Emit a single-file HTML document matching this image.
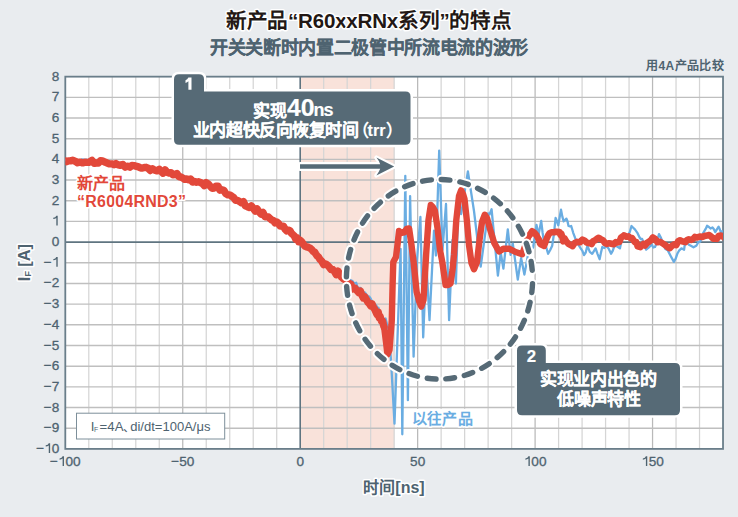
<!DOCTYPE html>
<html lang="zh-CN"><head><meta charset="utf-8">
<style>
html,body{margin:0;padding:0;background:#e9ecef;}
body{width:738px;height:517px;overflow:hidden;font-family:"Liberation Sans",sans-serif;}
svg{display:block;font-family:"Liberation Sans",sans-serif;}
</style></head><body>
<svg width="738" height="517" viewBox="0 0 738 517"><rect width="738" height="517" fill="#e9ecef"/><rect x="65.30" y="76.66" width="657.72" height="372.24" fill="#fff"/><rect x="300.20" y="76.66" width="93.96" height="372.24" fill="#f9e2da"/><line x1="88.79" y1="76.66" x2="88.79" y2="448.90" stroke="#d5d5d5" stroke-width="1.25"/><line x1="112.28" y1="76.66" x2="112.28" y2="448.90" stroke="#d5d5d5" stroke-width="1.25"/><line x1="135.77" y1="76.66" x2="135.77" y2="448.90" stroke="#d5d5d5" stroke-width="1.25"/><line x1="159.26" y1="76.66" x2="159.26" y2="448.90" stroke="#d5d5d5" stroke-width="1.25"/><line x1="182.75" y1="76.66" x2="182.75" y2="448.90" stroke="#b9b9b9" stroke-width="1.25"/><line x1="206.24" y1="76.66" x2="206.24" y2="448.90" stroke="#d5d5d5" stroke-width="1.25"/><line x1="229.73" y1="76.66" x2="229.73" y2="448.90" stroke="#d5d5d5" stroke-width="1.25"/><line x1="253.22" y1="76.66" x2="253.22" y2="448.90" stroke="#d5d5d5" stroke-width="1.25"/><line x1="276.71" y1="76.66" x2="276.71" y2="448.90" stroke="#d5d5d5" stroke-width="1.25"/><line x1="323.69" y1="76.66" x2="323.69" y2="448.90" stroke="#d5d5d5" stroke-width="1.25"/><line x1="347.18" y1="76.66" x2="347.18" y2="448.90" stroke="#d5d5d5" stroke-width="1.25"/><line x1="370.67" y1="76.66" x2="370.67" y2="448.90" stroke="#d5d5d5" stroke-width="1.25"/><line x1="394.16" y1="76.66" x2="394.16" y2="448.90" stroke="#d5d5d5" stroke-width="1.25"/><line x1="417.65" y1="76.66" x2="417.65" y2="448.90" stroke="#b9b9b9" stroke-width="1.25"/><line x1="441.14" y1="76.66" x2="441.14" y2="448.90" stroke="#d5d5d5" stroke-width="1.25"/><line x1="464.63" y1="76.66" x2="464.63" y2="448.90" stroke="#d5d5d5" stroke-width="1.25"/><line x1="488.12" y1="76.66" x2="488.12" y2="448.90" stroke="#d5d5d5" stroke-width="1.25"/><line x1="511.61" y1="76.66" x2="511.61" y2="448.90" stroke="#d5d5d5" stroke-width="1.25"/><line x1="535.10" y1="76.66" x2="535.10" y2="448.90" stroke="#b9b9b9" stroke-width="1.25"/><line x1="558.59" y1="76.66" x2="558.59" y2="448.90" stroke="#d5d5d5" stroke-width="1.25"/><line x1="582.08" y1="76.66" x2="582.08" y2="448.90" stroke="#d5d5d5" stroke-width="1.25"/><line x1="605.57" y1="76.66" x2="605.57" y2="448.90" stroke="#d5d5d5" stroke-width="1.25"/><line x1="629.06" y1="76.66" x2="629.06" y2="448.90" stroke="#d5d5d5" stroke-width="1.25"/><line x1="652.55" y1="76.66" x2="652.55" y2="448.90" stroke="#b9b9b9" stroke-width="1.25"/><line x1="676.04" y1="76.66" x2="676.04" y2="448.90" stroke="#d5d5d5" stroke-width="1.25"/><line x1="699.53" y1="76.66" x2="699.53" y2="448.90" stroke="#d5d5d5" stroke-width="1.25"/><line x1="65.30" y1="428.22" x2="723.02" y2="428.22" stroke="#bfbfbf" stroke-width="1.4"/><line x1="65.30" y1="407.54" x2="723.02" y2="407.54" stroke="#bfbfbf" stroke-width="1.4"/><line x1="65.30" y1="386.86" x2="723.02" y2="386.86" stroke="#bfbfbf" stroke-width="1.4"/><line x1="65.30" y1="366.18" x2="723.02" y2="366.18" stroke="#bfbfbf" stroke-width="1.4"/><line x1="65.30" y1="345.50" x2="723.02" y2="345.50" stroke="#bfbfbf" stroke-width="1.4"/><line x1="65.30" y1="324.82" x2="723.02" y2="324.82" stroke="#bfbfbf" stroke-width="1.4"/><line x1="65.30" y1="304.14" x2="723.02" y2="304.14" stroke="#bfbfbf" stroke-width="1.4"/><line x1="65.30" y1="283.46" x2="723.02" y2="283.46" stroke="#bfbfbf" stroke-width="1.4"/><line x1="65.30" y1="262.78" x2="723.02" y2="262.78" stroke="#bfbfbf" stroke-width="1.4"/><line x1="65.30" y1="221.42" x2="723.02" y2="221.42" stroke="#bfbfbf" stroke-width="1.4"/><line x1="65.30" y1="200.74" x2="723.02" y2="200.74" stroke="#bfbfbf" stroke-width="1.4"/><line x1="65.30" y1="180.06" x2="723.02" y2="180.06" stroke="#bfbfbf" stroke-width="1.4"/><line x1="65.30" y1="159.38" x2="723.02" y2="159.38" stroke="#bfbfbf" stroke-width="1.4"/><line x1="65.30" y1="138.70" x2="723.02" y2="138.70" stroke="#bfbfbf" stroke-width="1.4"/><line x1="65.30" y1="118.02" x2="723.02" y2="118.02" stroke="#bfbfbf" stroke-width="1.4"/><line x1="65.30" y1="97.34" x2="723.02" y2="97.34" stroke="#bfbfbf" stroke-width="1.4"/><line x1="65.30" y1="242.10" x2="723.02" y2="242.10" stroke="#5f7480" stroke-width="1.6"/><line x1="300.20" y1="76.66" x2="300.20" y2="448.90" stroke="#5f7480" stroke-width="1.6"/><rect x="65.30" y="76.66" width="657.72" height="372.24" fill="none" stroke="#6a7e8a" stroke-width="1.8"/><defs><clipPath id="pc"><rect x="65.30" y="76.66" width="657.72" height="372.24"/></clipPath></defs><g clip-path="url(#pc)" fill="none" stroke-linejoin="round" stroke-linecap="round"><path d="M65.3,160.2 L66.8,160.2 L68.3,161.5 L70.6,160.0 L73.4,159.3 L75.3,160.2 L77.6,161.2 L80.2,161.3 L82.1,159.4 L85.1,160.0 L86.7,159.7 L89.2,161.7 L92.3,160.4 L94.3,160.3 L96.6,162.8 L98.1,162.9 L100.8,161.5 L102.1,163.1 L104.6,161.5 L106.9,162.7 L109.6,161.7 L112.6,164.3 L114.5,163.0 L115.8,164.3 L118.2,163.7 L120.9,163.6 L122.1,163.7 L124.6,165.1 L127.7,164.1 L129.9,165.6 L132.1,166.3 L134.0,166.3 L136.2,167.1 L138.3,166.8 L140.1,165.4 L142.1,167.6 L144.0,167.0 L146.1,167.3 L147.8,167.9 L150.8,168.2 L152.7,169.5 L154.7,167.9 L156.8,170.4 L158.8,169.4 L161.5,171.1 L163.1,171.5 L165.2,170.2 L166.6,171.1 L169.3,171.7 L170.7,172.0 L172.5,173.0 L174.6,174.0 L176.2,174.4 L178.6,172.9 L181.0,175.0 L182.1,175.2 L184.8,176.3 L186.9,178.3 L188.8,178.9 L191.0,180.1 L192.7,178.5 L194.8,182.3 L196.4,181.3 L199.0,180.6 L200.5,184.7 L202.0,183.5 L204.8,183.2 L206.4,184.6 L207.9,184.3 L210.2,185.8 L212.1,185.5 L213.8,186.1 L216.3,187.2 L217.7,187.2 L220.7,189.8 L222.1,187.4 L224.0,191.1 L226.3,192.0 L227.8,193.1 L229.1,194.7 L231.8,194.3 L234.0,197.8 L235.2,196.8 L237.6,198.9 L239.4,199.1 L242.1,202.1 L243.1,201.2 L245.9,204.4 L247.9,205.4 L249.0,206.1 L250.6,206.3 L253.2,208.5 L255.0,208.9 L257.3,210.4 L259.3,211.1 L261.0,212.6 L263.0,212.2 L264.8,214.0 L266.6,215.2 L268.3,216.2 L270.0,216.0 L271.8,219.2 L273.5,219.2 L275.2,219.7 L276.1,221.7 L278.1,223.4 L279.7,221.5 L281.4,226.4 L283.3,224.8 L284.9,227.7 L286.9,228.6 L288.9,230.4 L289.9,231.5 L291.9,233.2 L293.2,232.8 L294.3,235.9 L295.7,237.6 L297.4,238.9 L298.7,241.7 L300.6,240.5 L301.9,244.3 L303.5,243.8 L305.5,244.0 L306.6,245.2 L308.7,247.0 L310.5,247.2 L312.2,249.0 L313.4,249.9 L314.5,251.9 L315.5,252.2 L317.1,252.9 L318.3,254.1 L319.7,258.1 L321.8,259.4 L323.6,260.1 L325.5,262.9 L326.7,262.9 L327.8,263.3 L329.7,267.0 L330.5,267.5 L333.0,267.3 L334.0,269.3 L336.1,270.1 L338.1,272.6 L340.0,274.1 L341.9,275.5 L342.7,274.9 L344.2,275.3 L345.9,277.2 L347.3,276.5 L348.8,279.3 L350.9,280.3 L352.4,281.0 L354.0,283.1 L355.0,283.2 L356.2,282.7 L357.2,286.4 L358.5,287.9 L360.5,287.9 L361.8,290.3 L363.6,292.5 L364.9,292.5 L366.4,294.6 L368.1,296.4 L369.1,296.4 L370.6,298.5 L371.7,300.7 L373.2,302.7 L374.8,304.1 L376.6,306.0 L377.4,308.3 L378.5,307.8 L378.9,311.8 L380.2,315.1 L381.6,316.7 L382.9,318.5 L383.6,319.2 L384.2,319.6 L385.6,318.5 L388.5,330.0 L391.0,360.0 L394.5,423.6 L400.6,249.0 L402.3,434.3 L405.3,175.8 L407.9,400.2 L410.1,196.1 L413.6,356.6 L417.0,260.0 L420.4,217.0 L423.2,337.4 L426.3,262.0 L429.5,320.1 L434.0,230.7 L435.9,255.5 L439.2,150.6 L442.5,250.0 L446.0,204.0 L449.1,320.1 L452.5,240.0 L455.9,283.5 L458.5,200.0 L461.1,214.1 L467.9,171.4 L474.0,211.0 L480.7,266.6 L488.0,213.3 L489.5,214.5 L491.6,209.3 L497.9,275.7 L500.7,252.6 L503.4,268.5 L507.8,229.4 L510.6,254.8 L512.8,243.7 L517.8,279.6 L521.1,258.1 L524.4,274.6 L528.0,255.0 L533.2,247.0 L536.5,225.0 L538.5,235.0 L541.2,221.0 L542.6,232.7 L544.0,241.6 L546.0,246.5 L548.1,253.8 L550.2,250.0 L552.2,245.7 L553.9,234.3 L555.6,217.9 L557.0,221.3 L558.3,225.3 L559.6,217.5 L561.0,209.7 L562.4,216.9 L563.7,221.3 L565.0,220.0 L566.4,218.6 L567.5,221.3 L568.5,226.0 L569.9,226.3 L571.2,226.0 L573.2,232.8 L575.2,238.2 L578.0,244.2 L580.7,248.4 L582.4,250.8 L584.0,255.1 L585.7,252.5 L587.4,245.7 L589.8,251.8 L592.2,253.8 L593.9,251.1 L595.6,248.4 L597.6,254.1 L599.6,259.2 L601.0,252.6 L602.3,247.0 L604.3,248.0 L606.4,245.7 L608.8,248.9 L611.1,253.8 L612.8,250.6 L614.5,245.7 L617.2,246.5 L619.9,248.4 L621.6,240.1 L623.3,233.5 L625.7,235.0 L628.1,234.8 L629.8,232.0 L631.5,226.0 L633.2,227.7 L634.9,229.4 L637.2,232.6 L639.6,237.5 L640.9,239.2 L642.1,238.9 L644.1,244.2 L646.1,249.7 L648.9,247.4 L651.6,244.3 L653.3,247.5 L655.0,247.0 L657.0,241.9 L659.0,234.1 L660.7,237.2 L662.4,241.6 L665.1,248.7 L667.8,250.4 L670.8,256.2 L673.9,261.9 L675.6,258.8 L677.3,253.8 L679.3,250.3 L681.4,248.4 L682.8,249.0 L684.1,249.7 L685.1,242.2 L686.1,238.9 L688.5,244.4 L690.8,245.7 L693.5,247.3 L696.3,245.7 L698.3,242.2 L700.3,241.6 L703.0,233.3 L705.8,228.7 L707.1,225.8 L708.5,226.7 L710.5,228.5 L712.5,227.4 L713.9,229.2 L715.2,232.1 L716.9,229.3 L718.6,226.7 L719.7,229.0 L720.7,232.1 L723.4,231.0 L726.0,230.1" stroke="#6aade2" stroke-width="2.3"/><path d="M65.3,160.8 L66.6,161.7 L68.3,160.9 L70.3,160.9 L72.6,160.3 L75.1,161.2 L77.6,162.8 L80.1,162.1 L82.6,162.9 L84.9,162.2 L87.0,162.4 L88.8,162.3 L91.9,160.4 L94.3,163.3 L96.4,163.0 L98.4,163.1 L100.5,160.8 L102.7,161.0 L104.7,162.1 L106.7,162.8 L109.2,163.9 L112.3,163.9 L114.0,164.7 L116.0,163.6 L118.1,164.9 L120.4,165.3 L122.8,164.4 L125.2,167.2 L127.6,166.2 L129.9,167.2 L132.0,165.5 L134.0,165.6 L135.8,166.2 L138.5,166.9 L140.7,168.0 L142.6,168.0 L144.4,167.5 L146.1,167.3 L148.0,168.1 L150.3,170.5 L152.5,168.7 L154.8,170.3 L157.0,170.9 L159.3,169.3 L161.2,171.4 L163.1,173.2 L165.1,170.0 L167.1,172.3 L169.0,173.0 L171.0,172.8 L173.0,174.7 L174.9,174.6 L176.9,173.5 L178.8,176.6 L180.8,177.0 L182.7,178.0 L184.7,179.3 L186.7,179.0 L188.6,179.7 L190.6,179.1 L192.5,182.1 L194.5,181.5 L196.5,182.2 L198.4,181.8 L200.4,182.5 L202.3,183.3 L204.3,185.7 L206.2,182.6 L208.2,183.8 L210.2,186.3 L212.1,188.3 L214.1,188.0 L216.0,186.1 L218.0,186.2 L219.9,190.2 L221.9,189.9 L223.9,190.4 L225.8,193.7 L227.8,194.9 L229.7,194.9 L231.7,196.2 L233.6,197.6 L235.6,200.2 L237.6,200.4 L239.5,201.5 L241.5,202.8 L243.4,201.6 L245.4,205.9 L247.3,206.7 L249.3,207.4 L251.3,205.8 L253.2,208.3 L255.2,211.0 L257.1,209.0 L259.1,211.8 L261.0,214.0 L263.0,212.5 L265.0,216.8 L266.6,216.6 L268.3,216.9 L270.0,218.5 L271.7,220.0 L273.4,220.5 L275.0,222.8 L276.7,221.9 L278.4,223.3 L280.1,226.0 L281.7,226.0 L283.4,226.1 L285.1,229.2 L286.8,231.0 L288.5,230.2 L289.9,230.5 L291.4,233.2 L292.9,234.6 L294.3,235.9 L295.8,239.2 L297.3,238.0 L298.7,241.8 L300.2,240.3 L301.9,242.1 L303.6,244.7 L305.2,246.3 L306.9,246.9 L308.6,247.4 L310.3,248.3 L311.9,249.7 L313.3,251.5 L314.6,252.1 L315.8,254.0 L317.1,255.9 L318.4,256.9 L319.9,259.4 L321.7,261.1 L323.7,264.6 L324.9,263.8 L326.3,264.2 L327.8,265.5 L329.4,267.2 L331.1,269.5 L332.8,269.5 L334.6,271.7 L336.3,274.7 L338.1,271.2 L339.8,274.2 L341.5,277.0 L343.0,278.4 L344.5,279.5 L345.9,279.9 L347.2,282.1 L349.2,283.5 L350.9,284.2 L352.4,288.9 L353.8,287.9 L355.0,288.2 L356.3,290.0 L357.5,291.1 L358.9,292.7 L360.4,291.2 L361.9,295.0 L363.4,298.0 L364.9,297.0 L366.4,299.6 L367.9,302.2 L369.3,303.5 L370.7,305.8 L372.0,303.9 L373.3,307.2 L374.6,309.1 L375.9,312.0 L377.0,314.3 L378.2,312.0 L379.2,317.7 L380.1,316.4 L381.5,321.3 L382.6,321.0 L383.4,324.6 L384.0,326.9" stroke="#e2483a" stroke-width="7.4"/><path d="M384.0,326.2 L386.0,342.0 L387.5,354.5 L389.5,350.0 L391.8,320.0 L392.6,285.0 L393.3,262.0 L396.0,257.0 L397.5,245.0 L399.0,231.0 L401.5,233.0 L404.2,232.3 L406.5,229.0 L409.1,228.5 L411.5,245.0 L413.6,262.0 L416.6,291.7 L419.0,301.0 L421.3,306.6 L423.5,300.0 L426.1,255.0 L428.5,220.0 L430.8,205.0 L432.8,207.0 L434.9,210.8 L437.5,228.0 L440.0,250.0 L442.3,262.0 L445.6,285.1 L448.0,285.0 L450.5,283.5 L452.5,270.0 L454.0,255.0 L456.3,220.0 L459.0,196.0 L461.1,190.3 L463.0,194.0 L464.5,199.0 L466.8,220.0 L469.0,245.0 L471.5,263.0 L474.0,269.3 L477.0,262.0 L479.5,240.0 L482.0,222.0 L484.8,214.7 L487.0,218.0 L490.2,229.6 L494.1,242.6 L499.0,251.5 L503.4,248.7 L509.0,248.7 L515.6,252.0 L522.2,254.2 L528.2,237.1" stroke="#e2483a" stroke-width="6.4"/><path d="M528.2,236.0 L529.9,234.8 L532.1,231.3 L534.3,232.8 L536.5,235.2 L537.4,237.0 L538.3,238.6 L539.2,240.3 L540.1,243.5 L540.9,244.3 L544.0,245.9 L544.9,243.5 L546.0,240.4 L547.1,237.6 L548.3,235.1 L549.5,233.2 L551.8,232.2 L554.2,232.1 L556.3,231.9 L559.6,232.0 L560.4,234.7 L561.3,233.7 L562.2,236.5 L563.2,241.3 L564.4,238.3 L566.3,241.5 L568.6,243.9 L570.8,245.2 L572.5,246.1 L573.8,244.1 L575.2,242.7 L577.2,241.9 L579.8,242.3 L582.5,239.6 L584.7,240.7 L586.7,242.6 L588.2,242.9 L590.1,243.3 L591.6,244.0 L593.3,241.0 L595.0,240.4 L596.7,239.0 L598.3,237.8 L600.0,238.6 L601.5,239.7 L603.1,240.3 L605.0,243.0 L607.0,243.9 L609.2,243.2 L611.5,243.7 L613.8,244.3 L615.9,242.1 L617.7,242.5 L619.4,241.9 L621.0,237.6 L622.5,236.7 L624.0,235.3 L626.4,236.8 L628.6,236.4 L630.8,238.4 L632.2,238.1 L633.6,240.4 L635.0,242.2 L636.3,242.1 L637.6,246.4 L640.3,247.1 L643.4,244.0 L645.1,245.4 L647.1,242.9 L649.1,241.7 L651.1,240.1 L652.9,237.4 L655.3,239.0 L657.4,242.2 L659.7,241.7 L661.5,242.6 L663.4,243.9 L665.5,245.3 L667.8,247.3 L669.7,248.2 L671.8,245.9 L674.1,244.4 L676.3,245.1 L678.3,241.1 L680.0,240.2 L682.9,241.6 L685.4,242.1 L687.0,240.1 L688.9,239.3 L690.9,239.9 L692.9,239.1 L694.9,236.9 L697.3,237.4 L699.8,236.5 L702.2,237.0 L704.4,236.1 L707.0,235.6 L709.2,235.0 L711.2,236.6 L713.3,238.8 L715.2,238.5 L716.9,238.9 L718.8,235.7 L720.7,235.6 L723.7,237.0 L726.0,239.0" stroke="#e2483a" stroke-width="6.6"/></g><ellipse cx="439.5" cy="279.3" rx="93.1" ry="99.8" fill="none" stroke="#fff" stroke-width="9.4" stroke-dasharray="8.8 10" stroke-dashoffset="-4.5" stroke-linecap="round"/><ellipse cx="439.5" cy="279.3" rx="93.1" ry="99.8" fill="none" stroke="#566a76" stroke-width="5.4" stroke-dasharray="8.8 10" stroke-dashoffset="-4.5" stroke-linecap="round"/><path d="M300,164.15 L380.2,164.15 Q378.8,160.5 376.4,157.6 L394.2,166.5 L376.4,175.4 Q378.8,172.5 380.2,168.85 L300,168.85 Z" fill="#566a76" stroke="#fff" stroke-width="4.4" stroke-linejoin="round" paint-order="stroke"/><text x="36.13 51.64" y="452.90" font-size="13.6" fill="#4e6370" stroke="#4e6370" stroke-width="0.3">−0</text><path d="M48.77,443.16 H50.13 V452.90 H48.77 V445.42 Q47.61,446.24 45.71,446.44 V445.35 Q48.16,445.01 48.77,443.16 Z" fill="#4e6370"/><text x="43.70 51.64" y="432.22" font-size="13.6" fill="#4e6370" stroke="#4e6370" stroke-width="0.3">−9</text><text x="43.70 51.64" y="411.54" font-size="13.6" fill="#4e6370" stroke="#4e6370" stroke-width="0.3">−8</text><text x="43.70 51.64" y="390.86" font-size="13.6" fill="#4e6370" stroke="#4e6370" stroke-width="0.3">−7</text><text x="43.70 51.64" y="370.18" font-size="13.6" fill="#4e6370" stroke="#4e6370" stroke-width="0.3">−6</text><text x="43.70 51.64" y="349.50" font-size="13.6" fill="#4e6370" stroke="#4e6370" stroke-width="0.3">−5</text><text x="43.70 51.64" y="328.82" font-size="13.6" fill="#4e6370" stroke="#4e6370" stroke-width="0.3">−4</text><text x="43.70 51.64" y="308.14" font-size="13.6" fill="#4e6370" stroke="#4e6370" stroke-width="0.3">−3</text><text x="43.70 51.64" y="287.46" font-size="13.6" fill="#4e6370" stroke="#4e6370" stroke-width="0.3">−2</text><text x="43.70" y="266.78" font-size="13.6" fill="#4e6370" stroke="#4e6370" stroke-width="0.3">−</text><path d="M56.33,257.04 H57.69 V266.78 H56.33 V259.30 Q55.17,260.12 53.27,260.32 V259.23 Q55.72,258.89 56.33,257.04 Z" fill="#4e6370"/><text x="51.64" y="246.10" font-size="13.6" fill="#4e6370" stroke="#4e6370" stroke-width="0.3">0</text><path d="M56.33,215.68 H57.69 V225.42 H56.33 V217.94 Q55.17,218.76 53.27,218.96 V217.87 Q55.72,217.53 56.33,215.68 Z" fill="#4e6370"/><text x="51.64" y="204.74" font-size="13.6" fill="#4e6370" stroke="#4e6370" stroke-width="0.3">2</text><text x="51.64" y="184.06" font-size="13.6" fill="#4e6370" stroke="#4e6370" stroke-width="0.3">3</text><text x="51.64" y="163.38" font-size="13.6" fill="#4e6370" stroke="#4e6370" stroke-width="0.3">4</text><text x="51.64" y="142.70" font-size="13.6" fill="#4e6370" stroke="#4e6370" stroke-width="0.3">5</text><text x="51.64" y="122.02" font-size="13.6" fill="#4e6370" stroke="#4e6370" stroke-width="0.3">6</text><text x="51.64" y="101.34" font-size="13.6" fill="#4e6370" stroke="#4e6370" stroke-width="0.3">7</text><text x="51.64" y="80.66" font-size="13.6" fill="#4e6370" stroke="#4e6370" stroke-width="0.3">8</text><text x="49.99 65.49 73.05" y="466.10" font-size="13.6" fill="#4e6370" stroke="#4e6370" stroke-width="0.3">−00</text><path d="M62.62,456.36 H63.98 V466.10 H62.62 V458.62 Q61.46,459.44 59.56,459.64 V458.55 Q62.01,458.21 62.62,456.36 Z" fill="#4e6370"/><text x="171.22 179.16 186.72" y="466.10" font-size="13.6" fill="#4e6370" stroke="#4e6370" stroke-width="0.3">−50</text><text x="296.42" y="466.10" font-size="13.6" fill="#4e6370" stroke="#4e6370" stroke-width="0.3">0</text><text x="410.09 417.65" y="466.10" font-size="13.6" fill="#4e6370" stroke="#4e6370" stroke-width="0.3">50</text><text x="531.32 538.88" y="466.10" font-size="13.6" fill="#4e6370" stroke="#4e6370" stroke-width="0.3">00</text><path d="M528.45,456.36 H529.81 V466.10 H528.45 V458.62 Q527.29,459.44 525.39,459.64 V458.55 Q527.84,458.21 528.45,456.36 Z" fill="#4e6370"/><text x="648.77 656.33" y="466.10" font-size="13.6" fill="#4e6370" stroke="#4e6370" stroke-width="0.3">50</text><path d="M645.90,456.36 H647.26 V466.10 H645.90 V458.62 Q644.74,459.44 642.84,459.64 V458.55 Q645.29,458.21 645.90,456.36 Z" fill="#4e6370"/><text x="368.9" y="27.8" text-anchor="middle" font-size="20.6" textLength="286" font-weight="700" fill="#231815" stroke="#fff" stroke-width="3" stroke-linejoin="round" paint-order="stroke">新产品“R60xxRNx系列”的特点</text><text x="369.2" y="53.6" text-anchor="middle" font-size="18" textLength="318" font-weight="700" fill="#4e6370" stroke="#4e6370" stroke-width="0.1">开关关断时内置二极管中所流电流的波形</text><text x="723.6" y="70.3" text-anchor="end" font-size="12" textLength="77.5" font-weight="700" fill="#4e6370">用4A产品比较</text><text x="394" y="492.5" text-anchor="middle" font-size="16" font-weight="700" fill="#4e6370" stroke="#fff" stroke-width="3" stroke-linejoin="round" paint-order="stroke">时间[ns]</text><g transform="translate(29.9,262.6) rotate(-90)"><text x="0" y="0" text-anchor="middle" font-size="16.4" font-weight="700" fill="#4e6370" stroke="#fff" stroke-width="3" stroke-linejoin="round" paint-order="stroke">I<tspan font-size="9.5" dy="0.6">F</tspan><tspan dy="-0.6" dx="4.2">[A]</tspan></text></g><path d="M179,74.2 H199 Q204,74.2 204,79.2 V91.6 H405.5 Q410.5,91.6 410.5,96.6 V139.7 Q410.5,144.7 405.5,144.7 H179 Q174,144.7 174,139.7 V79.2 Q174,74.2 179,74.2 Z" fill="#566a76" stroke="#fff" stroke-width="5" paint-order="stroke"/><path d="M191.5,77.4 V89.8 H188.4 V81.3 Q187.2,82.4 185.5,83.1 V80.3 Q187.4,79.5 188.4,77.4 Z" fill="#fff"/><text x="252.6" y="116.6" font-size="17" font-weight="700" fill="#fff" stroke="#fff" stroke-width="0.15" textLength="34.2">实现</text><text x="287" y="116.4" font-size="24.8" font-weight="700" fill="#fff" stroke="#fff" stroke-width="0.15">40</text><text x="313.6" y="116.4" font-size="18" font-weight="700" fill="#fff" stroke="#fff" stroke-width="0.15" textLength="20">ns</text><text x="192.9" y="136" font-size="17" font-weight="700" fill="#fff" stroke="#fff" stroke-width="0.15" textLength="166">业内超快反向恢复时间</text><text x="351.7" y="137" font-size="17" font-weight="700" fill="#fff">（</text><text x="367.6" y="136" font-size="16" font-weight="700" fill="#fff" stroke="#fff" stroke-width="0.15">trr</text><text x="385.8" y="137" font-size="17" font-weight="700" fill="#fff">）</text><path d="M522,345.4 H540.8 Q545.8,345.4 545.8,350.4 V363 H675 Q680,363 680,368 V410.3 Q680,415.3 675,415.3 H522 Q517,415.3 517,410.3 V350.4 Q517,345.4 522,345.4 Z" fill="#566a76" stroke="#fff" stroke-width="5" paint-order="stroke"/><text x="531.5" y="361.9" text-anchor="middle" font-size="16.8" font-weight="700" fill="#fff" stroke="#fff" stroke-width="0.15">2</text><text x="540.3" y="385.2" font-size="17" font-weight="700" fill="#fff" stroke="#fff" stroke-width="0.15" textLength="116.5">实现业内出色的</text><text x="557" y="404.6" font-size="17" font-weight="700" fill="#fff" stroke="#fff" stroke-width="0.15" textLength="84">低噪声特性</text><rect x="76.5" y="413.2" width="148.2" height="25.8" fill="#fff" stroke="#7d8f9a" stroke-width="1"/><g fill="#4e6370"><text x="90.8" y="430.7" font-size="13.2">I</text><text x="94" y="431.6" font-size="6.8">F</text><text x="99.5" y="430.7" font-size="13.2" textLength="24">=4A</text><text x="123.2" y="431.6" font-size="12">、</text><text x="130.2" y="430.7" font-size="13" textLength="80.3">di/dt=100A/μs</text></g><text x="76.5" y="189" font-size="16" font-weight="700" fill="#e2483a" stroke="#fff" stroke-width="3" stroke-linejoin="round" paint-order="stroke">新产品</text><text x="77" y="207" font-size="16" font-weight="700" fill="#e2483a" textLength="109" stroke="#fff" stroke-width="3" stroke-linejoin="round" paint-order="stroke">“R6004RND3”</text><rect x="410" y="409" width="65" height="18" fill="#fff"/><text x="411.8" y="424.2" font-size="15" font-weight="700" textLength="61" fill="#6aade2" stroke="#fff" stroke-width="3" stroke-linejoin="round" paint-order="stroke">以往产品</text></svg>
</body></html>
